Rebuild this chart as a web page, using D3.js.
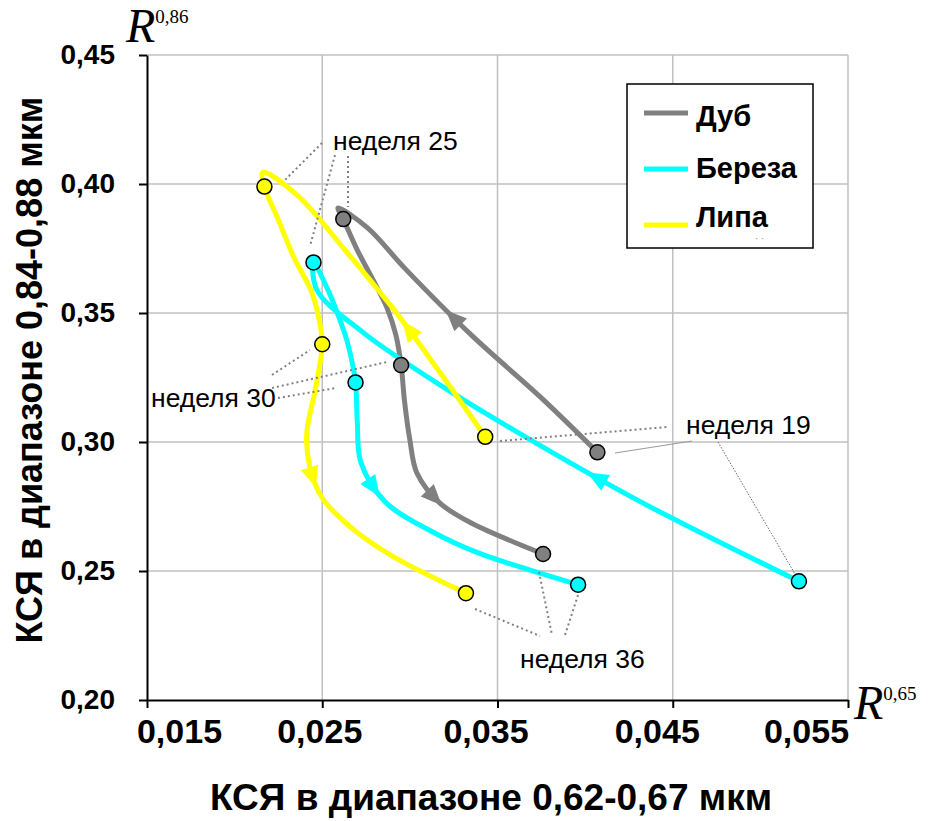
<!DOCTYPE html>
<html>
<head>
<meta charset="utf-8">
<script src="https://cdn.jsdelivr.net/npm/d3@7/dist/d3.min.js"></script>
<style>
  body { margin: 0; background: #fff; }
  svg { display: block; }
</style>
</head>
<body>
<svg id="chart" width="932" height="821"></svg>
<script>
// Weekly trajectories (weeks 19..36) in the plane of spectral brightness coefficients
const weeks = d3.range(19, 37);

// Дуб (oak)
const dubX = [0.0407, 0.0375, 0.0335, 0.0297, 0.0276, 0.0259, 0.0262, 0.0270, 0.0279,
              0.0287, 0.0292, 0.0295, 0.0297, 0.0300, 0.0304, 0.0317, 0.0335, 0.0376];
const dubY = [0.296, 0.3171, 0.3415, 0.3674, 0.3829, 0.3907, 0.3864, 0.3744, 0.3628,
              0.3519, 0.3415, 0.3298, 0.3155, 0.3008, 0.2880, 0.2764, 0.2686, 0.2566];

// Береза (birch)
const berezaX = [0.0522, 0.0432, 0.0375, 0.0320, 0.0273, 0.0247, 0.0245, 0.0254, 0.0259,
                 0.0264, 0.0267, 0.0269, 0.0270, 0.0272, 0.0286, 0.0312, 0.0339, 0.0396];
const berezaY = [0.246, 0.2767, 0.2984, 0.3209, 0.3426, 0.3589, 0.3696, 0.3578, 0.3492,
                 0.3395, 0.3310, 0.3231, 0.3078, 0.2922, 0.2767, 0.2655, 0.2570, 0.2447];

// Липа (linden)
const lipaX = [0.0343, 0.0317, 0.0291, 0.0263, 0.0236, 0.0216, 0.0217, 0.0225, 0.0234,
               0.0244, 0.0248, 0.0250, 0.0246, 0.0241, 0.0248, 0.0266, 0.0290, 0.0332];
const lipaY = [0.302, 0.3271, 0.3512, 0.3744, 0.3955, 0.4045, 0.3990, 0.3860, 0.3713,
               0.3581, 0.3481, 0.3379, 0.3202, 0.3008, 0.2806, 0.2671, 0.2558, 0.2414];

// Weeks that carry a marker
const markedWeeks = [19, 25, 30, 36];

// Axis ticks and their labels
const xTicks = [0.015, 0.025, 0.035, 0.045, 0.055];
const xTickLabels = ["0,015", "0,025", "0,035", "0,045", "0,055"];
const yTicks = [0.20, 0.25, 0.30, 0.35, 0.40, 0.45];
const yTickLabels = ["0,20", "0,25", "0,30", "0,35", "0,40", "0,45"];

const seriesNames = ["Дуб", "Береза", "Липа"];
const seriesColors = ["#808080", "#00ffff", "#ffff00"];

// Direction arrows: position as fractional index along each series
const arrowIdx = [[2.26, 14.8], [1.44, 13.6], [1.68, 13.7]];

const series = [
  { name: seriesNames[0], color: seriesColors[0], xs: dubX, ys: dubY, arrows: arrowIdx[0] },
  { name: seriesNames[1], color: seriesColors[1], xs: berezaX, ys: berezaY, arrows: arrowIdx[1] },
  { name: seriesNames[2], color: seriesColors[2], xs: lipaX, ys: lipaY, arrows: arrowIdx[2] }
];

const svg = d3.select("#chart");
const plot = { left: 147, right: 848, top: 55, bottom: 700 };

const x = d3.scaleLinear().domain([0.015, 0.055]).range([plot.left, plot.right]);
const y = d3.scaleLinear().domain([0.20, 0.45]).range([plot.bottom, plot.top]);

// Gridlines
const grid = svg.append("g").attr("stroke", "#c0c0c0").attr("stroke-width", 1.5);
grid.selectAll("line.gx").data(xTicks.slice(1)).join("line")
  .attr("x1", d => x(d)).attr("x2", d => x(d))
  .attr("y1", plot.top).attr("y2", plot.bottom);
grid.selectAll("line.gy").data(yTicks.slice(1)).join("line")
  .attr("y1", d => y(d)).attr("y2", d => y(d))
  .attr("x1", plot.left).attr("x2", plot.right);

// Axes
const xAxis = d3.axisBottom(x).tickValues(xTicks)
  .tickFormat((d, i) => xTickLabels[i]).tickSize(8).tickSizeOuter(0);
const yAxis = d3.axisLeft(y).tickValues(yTicks)
  .tickFormat((d, i) => yTickLabels[i]).tickSize(8).tickSizeOuter(0);

const gx = svg.append("g").attr("transform", `translate(0,${plot.bottom})`).call(xAxis);
const gy = svg.append("g").attr("transform", `translate(${plot.left},0)`).call(yAxis);

[gx, gy].forEach(g => {
  g.select(".domain").attr("stroke", "#000").attr("stroke-width", 2);
  g.selectAll(".tick line").attr("stroke", "#000").attr("stroke-width", 2);
  g.selectAll(".tick text").attr("fill", "#000")
    .style("font-family", "Arial, 'Liberation Sans', sans-serif")
    .style("font-weight", "bold");
});
// x labels sit slightly off their ticks: the first clears the y labels, the last clears R
const xLabelShift = [32, -3, -12, -16, -42];
gx.selectAll(".tick text").style("font-size", "34px").attr("dy", "0.71em").attr("y", 19)
  .attr("dx", (d, i) => xLabelShift[i]);
gy.selectAll(".tick text").style("font-size", "28px").attr("x", -32);

// Axis titles
svg.append("text")
  .attr("x", 491).attr("y", 810)
  .attr("text-anchor", "middle")
  .style("font-family", "Arial, 'Liberation Sans', sans-serif")
  .style("font-weight", "bold").style("font-size", "37px")
  .text("КСЯ в диапазоне 0,62-0,67 мкм");

svg.append("text")
  .attr("transform", `translate(42,${370}) rotate(-90)`)
  .attr("text-anchor", "middle")
  .style("font-family", "Arial, 'Liberation Sans', sans-serif")
  .style("font-weight", "bold").style("font-size", "36px")
  .text("КСЯ в диапазоне 0,84-0,88 мкм");

// Axis symbols R^0,86 and R^0,65
function rLabel(px, py, sup) {
  const t = svg.append("text").attr("x", px).attr("y", py)
    .style("font-family", "'Liberation Serif', 'Times New Roman', serif");
  t.append("tspan").style("font-style", "italic").style("font-size", "48px").text("R");
  t.append("tspan").attr("dy", -19).style("font-size", "19px").text(sup);
}
rLabel(126, 42, "0,86");
rLabel(854, 719, "0,65");

// Trajectories
const line = d3.line().curve(d3.curveCatmullRom.alpha(0.5))
  .x(d => x(d[0])).y(d => y(d[1]));

const pathNodes = [];
series.forEach(s => {
  const pts = s.xs.map((v, i) => [v, s.ys[i]]);
  const p = svg.append("path").datum(pts)
    .attr("d", line)
    .attr("fill", "none")
    .attr("stroke", s.color)
    .attr("stroke-width", 5)
    .attr("stroke-linejoin", "round");
  pathNodes.push(p.node());
});

// Arrowheads placed on the drawn curves
series.forEach((s, si) => {
  const node = pathNodes[si];
  const total = node.getTotalLength();
  s.arrows.forEach(idx => {
    const i = Math.floor(idx), t = idx - i;
    const tx = x(s.xs[i]) + (x(s.xs[i + 1]) - x(s.xs[i])) * t;
    const ty = y(s.ys[i]) + (y(s.ys[i + 1]) - y(s.ys[i])) * t;
    let best = 0, bestD = Infinity;
    for (let L = 0; L <= total; L += 0.5) {
      const q = node.getPointAtLength(L);
      const dd = (q.x - tx) ** 2 + (q.y - ty) ** 2;
      if (dd < bestD) { bestD = dd; best = L; }
    }
    const a = node.getPointAtLength(Math.max(0, best - 4));
    const b = node.getPointAtLength(Math.min(total, best + 4));
    const c = node.getPointAtLength(best);
    const ang = Math.atan2(b.y - a.y, b.x - a.x) * 180 / Math.PI;
    svg.append("path")
      .attr("d", "M11,0 L-10,-9 L-10,9 Z")
      .attr("fill", s.color)
      .attr("transform", `translate(${c.x},${c.y}) rotate(${ang})`);
  });
});

// Week annotations with leader lines
const leaderDotted = [
  [[322, 143], [285, 180]], [[335, 155], [310, 246]], [[348, 156], [348, 207]],
  [[272, 375], [310, 350]], [[272, 388], [387, 362]], [[278, 398], [336, 388]],
  [[500, 441], [667, 427]],
  [[475, 609], [540, 636]], [[539, 572], [552, 635]], [[578, 595], [565, 635]]
];
svg.append("g").selectAll("line").data(leaderDotted).join("line")
  .attr("x1", d => d[0][0]).attr("y1", d => d[0][1])
  .attr("x2", d => d[1][0]).attr("y2", d => d[1][1])
  .attr("stroke", "#808080").attr("stroke-width", 2).attr("stroke-dasharray", "2,3");
svg.append("line").attr("x1", 615).attr("y1", 453).attr("x2", 692).attr("y2", 441)
  .attr("stroke", "#999").attr("stroke-width", 1);
svg.append("line").attr("x1", 718).attr("y1", 442).attr("x2", 795).attr("y2", 574)
  .attr("stroke", "#666").attr("stroke-width", 1).attr("stroke-dasharray", "1.5,1.5");

const weekNotes = [
  { text: "неделя 25", x: 333, y: 150 },
  { text: "неделя 30", x: 151, y: 407 },
  { text: "неделя 19", x: 686, y: 434 },
  { text: "неделя 36", x: 520, y: 668 }
];
svg.append("g").selectAll("text").data(weekNotes).join("text")
  .attr("x", d => d.x).attr("y", d => d.y)
  .style("font-family", "Arial, 'Liberation Sans', sans-serif")
  .style("font-size", "26.5px").attr("fill", "#000")
  .text(d => d.text);

// Markers at the labelled weeks
series.forEach(s => {
  const pts = markedWeeks.map(w => [s.xs[weeks.indexOf(w)], s.ys[weeks.indexOf(w)]]);
  svg.append("g").selectAll("circle").data(pts).join("circle")
    .attr("cx", d => x(d[0])).attr("cy", d => y(d[1])).attr("r", 7.5)
    .attr("fill", s.color).attr("stroke", "#000").attr("stroke-width", 1.5);
});

// Legend
const lg = svg.append("g");
lg.append("rect").attr("x", 627).attr("y", 84).attr("width", 186).attr("height", 164)
  .attr("fill", "#fff").attr("stroke", "#000").attr("stroke-width", 1.5);
const legendRows = [
  { lineY: 113, textY: 126 },
  { lineY: 169, textY: 178 },
  { lineY: 225, textY: 227 }
];
series.forEach((s, i) => {
  lg.append("line").attr("x1", 644).attr("x2", 688)
    .attr("y1", legendRows[i].lineY).attr("y2", legendRows[i].lineY)
    .attr("stroke", s.color).attr("stroke-width", 5);
  lg.append("text").attr("x", 696).attr("y", legendRows[i].textY)
    .style("font-family", "Arial, 'Liberation Sans', sans-serif")
    .style("font-weight", "bold").style("font-size", "29px")
    .text(s.name);
});
lg.append("text").attr("x", 755).attr("y", 242).attr("fill", "#999")
  .style("font-family", "Arial, 'Liberation Sans', sans-serif").style("font-size", "10px")
  .text("·  ·");
</script>
</body>
</html>
